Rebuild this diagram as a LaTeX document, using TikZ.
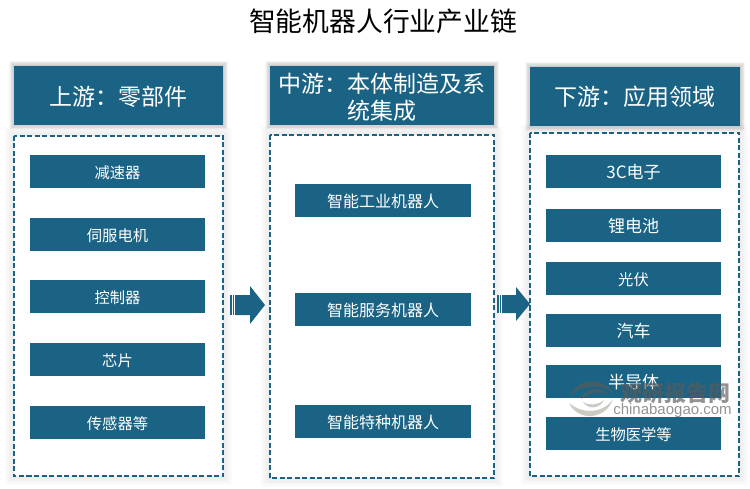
\documentclass[tikz,border=0pt]{standalone}
\usepackage{fontspec}
\setmainfont{Noto Sans CJK SC}
\newfontfamily\lat{Liberation Sans}
\definecolor{tealb}{HTML}{1A6385}
\definecolor{markg}{HTML}{5A5A5A}
\definecolor{markt}{HTML}{B3AFA3}
\newcommand{\softshadow}[6]{% x0 y0 x1 y1 strength reach
  \foreach \f in {1,0.85,0.7,0.55,0.4,0.25,0.1}{
    \fill[black,opacity=#5] (#1-#6*\f,#2-#6*\f) rectangle (#3+#6*\f,#4+#6*\f);
  }}
\newcommand{\blockarrow}[7]{% x0, head base, tip, shaft top, shaft bottom, head top, head bottom
  \fill[tealb] (#1,#4) rectangle (#1+1.5,#5);
  \fill[tealb] (#1+2.5,#4) rectangle (#1+4,#5);
  \fill[tealb] (#1+5,#4) -- (#2,#4) -- (#2,#6) -- (#3,{(#6+#7)/2}) -- (#2,#7) -- (#2,#5) -- (#1+5,#5) -- cycle;
}
\tikzset{
  x=1pt,y=-1pt,
  header/.style={fill=tealb,text=white,anchor=center,inner sep=0pt,font=\fontsize{23}{27}\selectfont,align=center},
  item/.style={fill=tealb,text=white,anchor=center,inner sep=0pt,minimum width=175pt,minimum height=33pt,text height=14pt,text depth=0pt,font=\fontsize{15.3}{17}\selectfont},
  panel/.style={draw=tealb,line width=1.3pt,dash pattern=on 5pt off 2.5pt,fill=white},
}
\begin{document}
\begin{tikzpicture}
\useasboundingbox (0,0) rectangle (750,489);
\fill[white] (0,0) rectangle (750,489);
\node[font=\fontsize{26.8}{30}\selectfont,text=black] (title) at (383,21) {智能机器人行业产业链};
% soft shadows
\softshadow{14}{66}{223}{125}{0.03}{5}
\softshadow{270}{66}{494}{125}{0.03}{5}
\softshadow{530}{67}{740}{126}{0.03}{5}
\softshadow{14}{136}{223}{476}{0.01}{9}
\softshadow{270}{135}{494}{478}{0.01}{9}
\softshadow{530}{133}{739}{476}{0.01}{9}
% headers
\fill[tealb] (14,66) rectangle (223,125);
\fill[tealb] (270,66) rectangle (494,125);
\fill[tealb] (530,67) rectangle (740,126);
\node[header] (h1) at (118.5,97) {上游：零部件};
\node[header,text width=222pt,align=center] (h2) at (382,97) {中游：本体制造及系\\统集成};
\node[header] (h3) at (635,97) {下游：应用领域};
% panels
\draw[panel] (14,136) rectangle (223,476);
\draw[panel] (270,135) rectangle (494,478);
\draw[panel] (530,133) rectangle (739,476);
% left items
\node[item] (a1) at (117.5,171.5) {减速器};
\node[item] (a2) at (117.5,234.5) {伺服电机};
\node[item] (a3) at (117.5,296.5) {控制器};
\node[item] (a4) at (117.5,359.5) {芯片};
\node[item] (a5) at (117.5,422.5) {传感器等};
% middle items
\node[item,minimum width=176pt,font=\fontsize{16}{18}\selectfont] (b1) at (383,201) {智能工业机器人};
\node[item,minimum width=176pt,font=\fontsize{16}{18}\selectfont] (b2) at (383,309.5) {智能服务机器人};
\node[item,minimum width=176pt,font=\fontsize{16}{18}\selectfont] (b3) at (383,421.5) {智能特种机器人};
% right items
\node[item,font=\fontsize{17}{19}\selectfont] (c1) at (633.5,171.5) {3C电子};
\node[item,font=\fontsize{17}{19}\selectfont] (c2) at (633.5,225.5) {锂电池};
\node[item] (c3) at (633.5,278.5) {光伏};
\node[item,font=\fontsize{17}{19}\selectfont] (c4) at (633.5,330.5) {汽车};
\node[item,font=\fontsize{17}{19}\selectfont] (c5) at (633.5,381.5) {半导体};
\node[item] (c6) at (633.5,433.5) {生物医学等};
% block arrows
\blockarrow{230}{250}{265}{295}{315}{286}{324}
\blockarrow{497}{516}{530}{295}{313}{287}{321}
% watermark
\begin{scope}[opacity=0.65]
\fill[markg] (571,396) .. controls (575,378) and (604,376) .. (613,393) .. controls (602,384) and (582,384) .. (571,396) -- cycle;
\fill[markg] (581,399) .. controls (585,387) and (600,386) .. (608,394) .. controls (600,391) and (590,392) .. (581,399) -- cycle;
\fill[markt] (569,403) .. controls (578,422) and (606,420) .. (613,399) .. controls (604,413) and (583,415) .. (569,403) -- cycle;
\fill[markt] (583,402) .. controls (588,410) and (600,409) .. (604,400) .. controls (598,405) and (590,406) .. (583,402) -- cycle;
\node[text=markg,font=\fontsize{22}{24}\bfseries\selectfont] (wm1) at (675.5,393) {观研报告网};
\node[text=markg,font=\lat\fontsize{15}{16}\selectfont] (wm2) at (672.5,411) {chinabaogao.com};
\end{scope}
\end{tikzpicture}
\end{document}
